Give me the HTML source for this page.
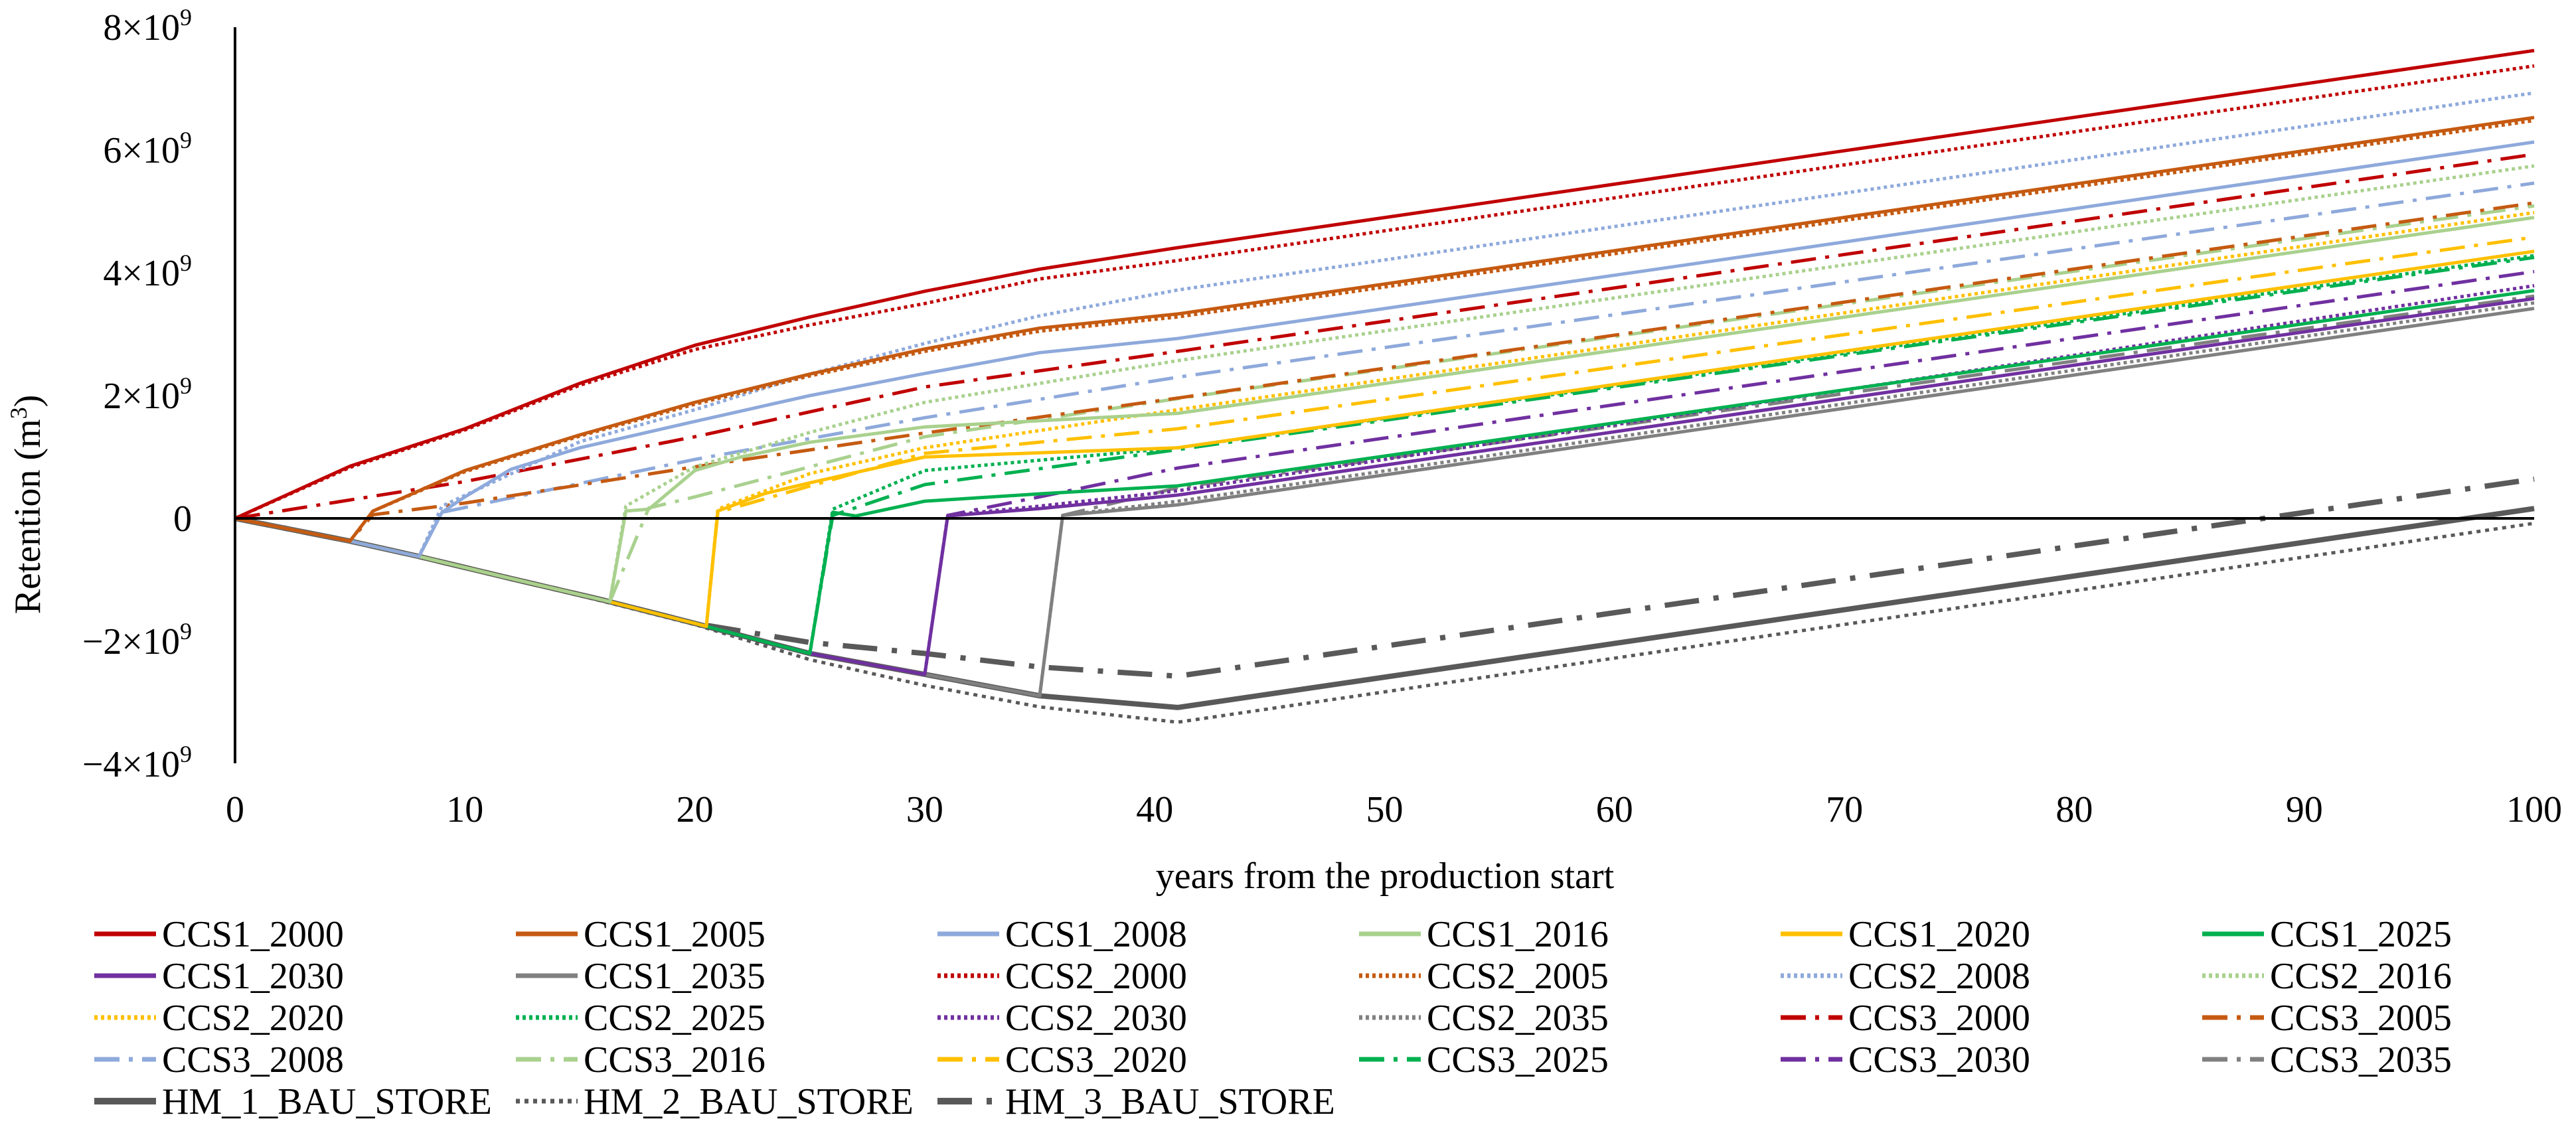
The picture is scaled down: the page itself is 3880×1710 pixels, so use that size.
<!DOCTYPE html>
<html><head><meta charset="utf-8"><style>
html,body{margin:0;padding:0;background:#fff;}
svg{display:block;font-family:"Liberation Serif","Times New Roman",serif;}
</style></head><body>
<svg id="chart" width="3880" height="1710" viewBox="0 0 3880 1710" xmlns="http://www.w3.org/2000/svg">
<g id="plot"></g>
<g id="axes"></g>
<g id="legend"></g>
</svg>
<script>
// ---- data ----
const xTicks = [0,10,20,30,40,50,60,70,80,90,100];
const yTicks = [8,6,4,2,0,-2,-4]; // ×10^9
const seriesNames = ["CCS1_2000","CCS1_2005","CCS1_2008","CCS1_2016","CCS1_2020","CCS1_2025","CCS1_2030","CCS1_2035",
 "CCS2_2000","CCS2_2005","CCS2_2008","CCS2_2016","CCS2_2020","CCS2_2025","CCS2_2030","CCS2_2035",
 "CCS3_2000","CCS3_2005","CCS3_2008","CCS3_2016","CCS3_2020","CCS3_2025","CCS3_2030","CCS3_2035",
 "HM_1_BAU_STORE","HM_2_BAU_STORE","HM_3_BAU_STORE"];
const hm1Years = [0,5,8,12,16,20,25,30,35,41,100];
const hm1Vals  = [0,-0.37,-0.62,-0.98,-1.33,-1.71,-2.2,-2.54,-2.89,-3.08,0.16];
const hm2Years = [0,5,8,12,16,20,25,30,35,41,100];
const hm2Vals  = [0,-0.37,-0.62,-0.99,-1.35,-1.73,-2.3,-2.72,-3.07,-3.32,-0.08];
const hm3Years = [0,5,8,12,16,20,25,30,35,41,100];
const hm3Vals  = [0,-0.37,-0.62,-0.98,-1.33,-1.71,-2.02,-2.2,-2.42,-2.57,0.64];
const startYears = [0,5,8,16.3,20.5,25,30,35, 0,5,8,16.3,20.5,25,30,35, 0,5,8,16.3,20.5,25,30,35];
const ccsYears = [
 [0,5,10,15,20,25,30,35,41,100],[6,10,15,20,25,30,35,41,100],[9,10,12,15,20,25,30,35,41,100],[17,18,20,22,25,30,41,100],[21,23,25,30,41,100],[26,27,30,35,41,100],[31,35,41,100],[36,41,100],
 [0,5,10,15,20,25,30,35,41,100],[6,10,15,20,25,30,35,41,100],[9,15,20,25,30,35,41,100],[17,20,25,30,41,100],[21,25,30,41,100],[26,30,41,100],[31,35,41,100],[36,41,100],
 [0,10,20,30,41,100],[6,10,20,30,41,100],[9,20,30,41,100],[18,20,30,41,100],[21,30,41,100],[26,30,41,100],[31,35,41,100],[36,41,100]];
const ccsVals = [
 [0,0.85,1.46,2.2,2.82,3.28,3.7,4.06,4.41,7.62],[0.12,0.78,1.36,1.89,2.35,2.76,3.1,3.33,6.53],[0.1,0.35,0.8,1.15,1.58,2.0,2.36,2.7,2.93,6.13],[0.12,0.15,0.78,1.0,1.24,1.49,1.71,4.9],[0.12,0.4,0.58,1.0,1.15,4.35],[0.1,0.04,0.28,0.4,0.53,3.71],[0.04,0.16,0.38,3.58],[0.05,0.22,3.42],
 [0,0.83,1.44,2.17,2.75,3.15,3.5,3.9,4.2,7.37],[0.12,0.76,1.34,1.86,2.32,2.72,3.05,3.28,6.48],[0.2,1.25,1.77,2.35,2.85,3.3,3.72,6.93],[0.2,0.84,1.4,1.89,2.57,5.74],[0.15,0.73,1.15,1.77,4.98],[0.15,0.78,1.15,4.28],[0.05,0.2,0.45,3.79],[0.05,0.28,3.51],
 [0,0.6,1.33,2.14,2.72,5.93],[0.06,0.25,0.84,1.39,1.96,5.14],[0.1,0.96,1.64,2.3,5.46],[0.17,0.35,1.33,1.95,5.09],[0.1,1.06,1.46,4.58],[0.05,0.55,1.12,4.25],[0.05,0.35,0.82,4.02],[0.05,0.5,3.62]];
// ---- styles ----
const colors = ["#C00000","#C55A11","#8EA9DB","#A9D18E","#FFC000","#00B050","#7030A0","#808080"];
const dashes = {solid:"", dot:"5 5", dashdot:"38 14 6 14", hmdot:"6 7", hmdash:"52 22 8 22"};
const X0=354, X1=3817, YTOP=41, Y0=781, YBOT=1150;
const PXV=(Y0-YTOP)/8;
const xs = v => X0 + (X1-X0)*v/100;
const ys = v => Y0 - v*PXV;
const NS="http://www.w3.org/2000/svg";
function mk(tag, attrs, parent){const e=document.createElementNS(NS,tag);for(const k in attrs)e.setAttribute(k,attrs[k]);parent.appendChild(e);return e;}
const plot=document.getElementById('plot'), axes=document.getElementById('axes'), legend=document.getElementById('legend');
function pathFor(years, vals){return years.map((y,i)=>(i?'L':'M')+xs(y).toFixed(1)+' '+ys(vals[i]).toFixed(1)).join(' ');}
function seriesPoints(i){
  const s=startYears[i]; let yrs=[],vls=[];
  if(s>0){for(let k=0;k<hm1Years.length;k++){if(hm1Years[k]<s){yrs.push(hm1Years[k]);vls.push(hm1Vals[k]);}}
    let k=hm1Years.findIndex(y=>y>=s); const a=hm1Years[k-1],b=hm1Years[k];
    yrs.push(s); vls.push(hm1Vals[k-1]+(hm1Vals[k]-hm1Vals[k-1])*(s-a)/(b-a));}
  return [yrs.concat(ccsYears[i]), vls.concat(ccsVals[i])];
}
function styleOf(i){
  if(i<24){const grp=Math.floor(i/8);return {c:colors[i%8],w:5,d:grp===0?dashes.solid:grp===1?dashes.dot:dashes.dashdot};}
  const j=i-24;return {c:"#595959",w:j===1?5:8,d:j===0?dashes.solid:j===1?dashes.hmdot:dashes.hmdash};
}
const zl=mk('line',{x1:X0,x2:X1,y1:Y0,y2:Y0,stroke:'#000','stroke-width':4},axes);


const ya=mk('line',{x1:X0,x2:X0,y1:YTOP,y2:YBOT,stroke:'#000','stroke-width':4},axes);


const hmY=[hm1Years,hm2Years,hm3Years], hmV=[hm1Vals,hm2Vals,hm3Vals];
for(let j=0;j<3;j++){const st=styleOf(24+j);
  const p=mk('path',{d:pathFor(hmY[j],hmV[j]),fill:'none',stroke:st.c,'stroke-width':st.w,'stroke-dasharray':st.d,'stroke-linejoin':'round'},plot);
  
  }
for(let i=23;i>=0;i--){const st=styleOf(i);const [yr,vl]=seriesPoints(i);
  const p=mk('path',{d:pathFor(yr,vl),fill:'none',stroke:st.c,'stroke-width':st.w,'stroke-dasharray':st.d,'stroke-linejoin':'round'},plot);
  
  }
xTicks.forEach(t=>{const e=mk('text',{x:xs(t),y:1238,'font-size':56,'text-anchor':'middle',fill:'#000'},axes);e.textContent=t;
  
  });
yTicks.forEach(t=>{const e=mk('text',{x:289,y:ys(t)+19,'font-size':56,'text-anchor':'end',fill:'#000'},axes);
  if(t===0)e.textContent='0';else{e.textContent=(t<0?'\u2212'+(-t):t)+'\u00d710';const s=mk('tspan',{dy:-22,'font-size':36},e);s.textContent='9';}
  
  });
const xt=mk('text',{x:2086,y:1338,'font-size':56,'text-anchor':'middle'},axes);xt.textContent='years from the production start';


const yt=mk('text',{x:0,y:0,'font-size':56,'text-anchor':'middle',transform:'translate(60,760) rotate(-90)'},axes);
yt.textContent='Retention (m';const sup=mk('tspan',{dy:-20,'font-size':36},yt);sup.textContent='3';const cl=mk('tspan',{dy:20},yt);cl.textContent=')';


for(let n=0;n<27;n++){const i=n;const col=n%6,row=Math.floor(n/6);const lx=142+col*635, ly=1407+row*63;const st=styleOf(i);
  const g=mk('g',{},legend);
  
  
  mk('line',{x1:lx,x2:lx+93,y1:ly,y2:ly,stroke:st.c,'stroke-width':st.w+2,'stroke-dasharray':st.d},g);
  const t=mk('text',{x:lx+102,y:ly+19,'font-size':56},g);t.textContent=seriesNames[i];}
</script>
</body></html>
